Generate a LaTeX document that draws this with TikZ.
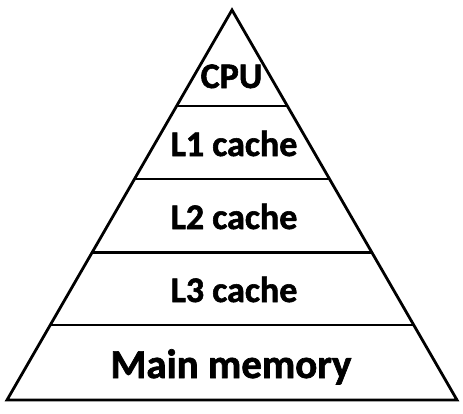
\documentclass[tikz,border=0pt]{standalone}
\usepackage{fontspec}
\setmainfont[BoldFeatures={FakeBold=1.6}]{Carlito}
\usetikzlibrary{calc}
\begin{document}
\begin{tikzpicture}[x=1pt,y=-1pt,
  edge/.style={line width=2.8pt,line join=miter},
  lbl/.style={anchor=base,inner sep=0pt,font=\fontsize{36}{40}\selectfont\bfseries},
  biglbl/.style={anchor=base,inner sep=0pt,font=\fontsize{41}{45}\selectfont\bfseries}]
\useasboundingbox (0,0) rectangle (463,413);
\coordinate (apex) at (232,10);
\coordinate (bl) at (7,400);
\coordinate (br) at (457,400);
\draw[edge] (apex) -- (br) -- (bl) -- cycle;
\foreach \y [count=\i] in {106,179,252.6,325}{
  \pgfmathsetmacro{\t}{(\y-10)/390}
  \coordinate (l\i) at ($(apex)!\t!(bl)$);
  \coordinate (r\i) at ($(apex)!\t!(br)$);
  \draw[edge] (l\i) -- (r\i);
}
\node[lbl] (cpu) at (231.5,88) {CPU};
\node[lbl] (l1) at (234,156) {L1 cache};
\node[lbl] (l2) at (234,229) {L2 cache};
\node[lbl] (l3) at (234,302) {L3 cache};
\node[biglbl] (mm) at (231,378) {Main memory};
\end{tikzpicture}
\end{document}
